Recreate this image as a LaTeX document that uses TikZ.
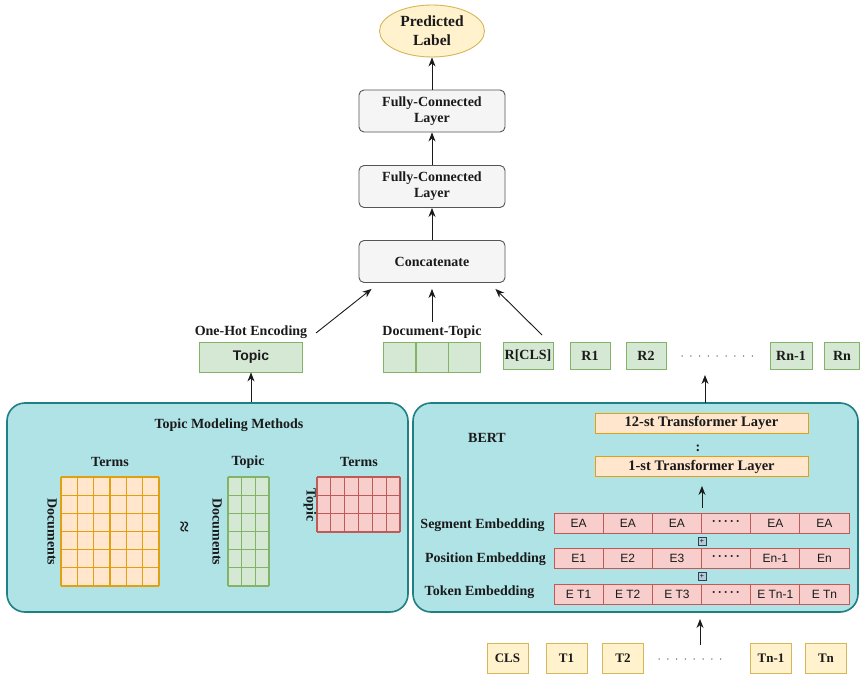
\documentclass[tikz,border=0pt]{standalone}
\usepackage{fontspec}
\setmainfont{Liberation Serif}
\newfontfamily\cellfont{Liberation Sans}
\usetikzlibrary{shapes.geometric,arrows.meta,calc}
\definecolor{fcfill}{HTML}{F5F5F5}
\definecolor{fcline}{HTML}{555555}
\definecolor{yfill}{HTML}{FFF2CC}
\definecolor{yline}{HTML}{D6B656}
\definecolor{gfill}{HTML}{D5E8D4}
\definecolor{gline}{HTML}{82B366}
\definecolor{ofill}{HTML}{FFE6CC}
\definecolor{oline}{HTML}{E0A010}
\definecolor{rfill}{HTML}{F8CECC}
\definecolor{rline}{HTML}{C05A56}
\definecolor{tfill}{HTML}{B0E3E6}
\definecolor{tline}{HTML}{1E7F85}
\definecolor{pfill}{HTML}{BAC8D3}
\definecolor{pline}{HTML}{23445D}
\definecolor{txt}{HTML}{1A1A1A}
\tikzset{
  lbl/.style={font=\fontsize{14}{16}\selectfont\bfseries, align=center, text=txt},
  fcbox/.style={draw=fcline, fill=fcfill, rounded corners=5pt, minimum width=146pt, minimum height=42pt, lbl, line width=0.9pt, inner sep=0pt},
  arr/.style={-{Stealth[length=9pt,width=7pt]}, line width=0.9pt, draw=txt},
  gbox/.style={draw=gline, fill=gfill, line width=0.9pt, minimum height=27pt, inner sep=0pt, lbl},
  ybox/.style={draw=yline, fill=yfill, line width=0.9pt, minimum height=30pt, minimum width=41pt, inner sep=0pt, font=\fontsize{13}{15}\selectfont\bfseries, text=txt},
  tlayer/.style={draw=oline, fill=ofill, line width=0.9pt, minimum height=20pt, minimum width=213pt, inner sep=0pt, font=\fontsize{14.5}{16}\selectfont\bfseries, text=txt},
  ecell/.style={draw=rline, fill=rfill, line width=0.9pt, minimum height=20pt, minimum width=49.17pt, inner sep=0pt, font=\cellfont\fontsize{12}{14}\selectfont, text=txt},
  plusbox/.style={draw=pline, fill=pfill, line width=0.6pt, minimum size=8pt, inner sep=0pt, font=\cellfont\fontsize{7}{7}\selectfont},
  panel/.style={draw=tline, fill=tfill, rounded corners=18pt, line width=1.6pt, inner sep=0pt},
  dotrow/.style={line width=1.5pt, dash pattern=on 0pt off 8.8pt, line cap=round, draw=txt!70},
  gridline/.style={line width=1.2pt},
}
\begin{document}
\begin{tikzpicture}[x=1pt,y=-1pt]
\useasboundingbox[fill=white] (0,0) rectangle (860,677);

% top column
\node[ellipse, draw=yline, fill=yfill, line width=0.9pt, minimum width=105pt, minimum height=52pt, inner sep=0pt, lbl, font=\fontsize{15.5}{19}\selectfont\bfseries] (pred) at (432,31) {Predicted\\Label};
\node[fcbox] (fc2) at (432,111) {Fully-Connected\\Layer};
\node[fcbox] (fc1) at (432,186.5) {Fully-Connected\\Layer};
\node[fcbox] (concat) at (432,261.5) {Concatenate};
\draw[arr] (fc2) -- (pred);
\draw[arr] (fc1) -- (fc2);
\draw[arr] (concat) -- (fc1);

% middle row
\node[lbl] (onehot) at (251,332) {One-Hot Encoding};
\node[gbox, minimum width=103pt, minimum height=30pt, font=\cellfont\fontsize{14}{16}\selectfont\bfseries] (topic) at (251,357) {Topic};
\node[lbl] (dtlbl) at (432,332) {Document-Topic};
\node[gbox, minimum width=32pt, minimum height=30pt] (dt2) at (432,357) {};
\node[gbox, minimum width=32pt, minimum height=30pt, anchor=east] (dt1) at (dt2.west) {};
\node[gbox, minimum width=32pt, minimum height=30pt, anchor=west] (dt3) at (dt2.east) {};
\node[gbox, minimum width=50pt] (rcls) at (528,356) {R[CLS]};
\node[gbox, minimum width=40pt] (r1) at (590,356) {R1};
\node[gbox, minimum width=40pt] (r2) at (646,356) {R2};
\coordinate (rd1) at (682,356);
\coordinate (rd2) at (753,356);
\draw[dotrow] (rd1) -- (rd2);
\node[gbox, minimum width=42pt] (rn1) at (791,356) {Rn-1};
\node[gbox, minimum width=35pt] (rn) at (842,356) {Rn};

\coordinate (la) at (316,333);
\coordinate (ra) at (542,335);
\draw[arr] (la) -- ($(concat.south west)+(13,6)$);
\draw[arr] (dtlbl.north) -- ($(concat.south)+(0,6)$);
\draw[arr] (ra) -- ($(concat.south east)+(-10,6)$);

% topic modeling panel
\node[panel, minimum width=401pt, minimum height=209pt] (tm) at (207.5,507.5) {};
\node[lbl] (tmt) at (229,425) {Topic Modeling Methods};
\draw[arr] (tm.north -| topic) -- (topic.south);

\node[lbl] at (110,462) {Terms};
\node[lbl] at (248,462) {Topic};
\node[lbl] at (359,462) {Terms};
\node[lbl, rotate=-90] at (52,532) {Documents};
\node[lbl, rotate=-90] at (217,532) {Documents};
\node[lbl, rotate=-90] at (310,505) {Topic};
\node[lbl, rotate=-90, font=\fontsize{20}{20}\selectfont\bfseries] at (183,527) {≈};

% orange grid
\fill[ofill] (61,477) rectangle (159,586);
\foreach \i in {0,...,6} {
  \draw[oline, gridline] ({61+\i*98/6},477) -- ({61+\i*98/6},586);
  \draw[oline, gridline] (61,{477+\i*109/6}) -- (159,{477+\i*109/6});
}
% green grid
\fill[gfill] (228,477) rectangle (269,586);
\foreach \i in {0,...,3} \draw[gline, gridline] ({228+\i*41/3},477) -- ({228+\i*41/3},586);
\foreach \i in {0,...,6} \draw[gline, gridline] (228,{477+\i*109/6}) -- (269,{477+\i*109/6});
% red grid
\fill[rfill] (317,477) rectangle (400,532);
\foreach \i in {0,...,6} \draw[rline, gridline] ({317+\i*83/6},477) -- ({317+\i*83/6},532);
\foreach \i in {0,...,3} \draw[rline, gridline] (317,{477+\i*55/3}) -- (400,{477+\i*55/3});

% BERT panel
\node[panel, minimum width=445pt, minimum height=209pt] (bert) at (635.5,507.5) {};
\node[lbl] (bertt) at (487,438) {BERT};
\node[tlayer] (l12) at (701.5,423) {12-st Transformer Layer};
\node[tlayer] (l1) at (701.5,466.5) {1-st Transformer Layer};
\node[lbl] (vdots) at (698,448) {:};

\coordinate (ba) at (705,403);
\coordinate (bb) at (705,375);
\draw[arr] (ba) -- (bb);

% embeddings
\foreach \r/\y/\a/\b/\c/\d/\e in {s/523.5/EA/EA/EA/EA/EA, p/558.5/E1/E2/E3/En-1/En, t/594.5/E T1/E T2/E T3/E Tn-1/E Tn} {
  \node[ecell] (\r1) at ({554+49.17*0.5},\y) {\a};
  \node[ecell] (\r2) at ({554+49.17*1.5},\y) {\b};
  \node[ecell] (\r3) at ({554+49.17*2.5},\y) {\c};
  \node[ecell] (\r4) at ({554+49.17*3.5},\y) {\textbf{·\,·\,·\,·\,·}};
  \node[ecell] (\r5) at ({554+49.17*4.5},\y) {\d};
  \node[ecell] (\r6) at ({554+49.17*5.5},\y) {\e};
}
\node[plusbox] (pl1) at (s3.south east |- 0,541) {+};
\node[plusbox] (pl2) at (s3.south east |- 0,576.5) {+};
\node[lbl] at (482.5,525) {Segment Embedding};
\node[lbl] at (485.5,559) {Position Embedding};
\node[lbl] at (479.5,592) {Token Embedding};
\draw[arr, shorten <=5pt, shorten >=9pt] (s3.north east) -- (s3.north east |- l1.south);

% tokens
\node[ybox] (cls) at (507.5,658) {CLS};
\node[ybox] (t1) at (566.5,658) {T1};
\node[ybox] (t2) at (623,658) {T2};
\coordinate (td1) at (659,659);
\coordinate (td2) at (729,659);
\draw[dotrow] (td1) -- (td2);
\node[ybox] (tn1) at (771,658) {Tn-1};
\node[ybox] (tn) at (826,658) {Tn};
\coordinate (ta) at (700,645);
\coordinate (tb) at (700,619);
\draw[arr] (ta) -- (tb);
\end{tikzpicture}
\end{document}
